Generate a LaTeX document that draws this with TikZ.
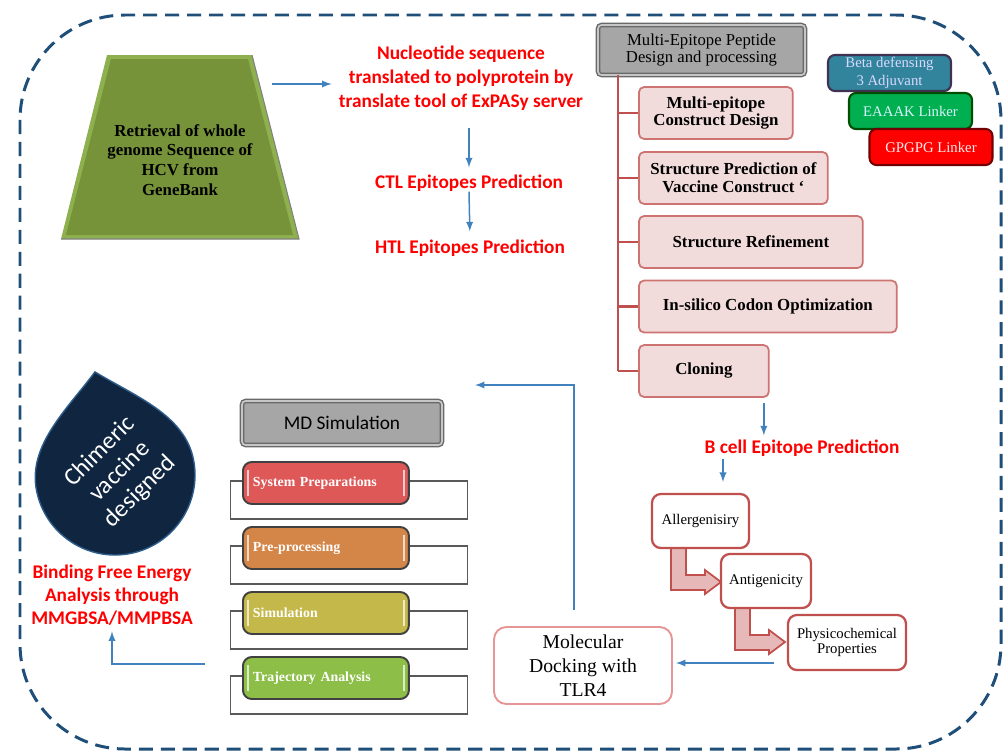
\documentclass[tikz,border=0pt]{standalone}
\usepackage{fontspec}
\setmainfont{Liberation Serif}
\newfontfamily\calibri{Carlito}
\usepackage{tikz}
\definecolor{framebl}{RGB}{31,78,121}
\definecolor{arrowbl}{RGB}{65,130,190}
\definecolor{leafgreen}{RGB}{118,147,58}
\definecolor{leafedge}{RGB}{142,176,78}
\definecolor{boxpink}{RGB}{242,220,219}
\definecolor{boxred}{RGB}{192,80,77}
\definecolor{greyfill}{RGB}{166,166,166}
\definecolor{greyedge}{RGB}{105,105,105}
\definecolor{tealbox}{RGB}{49,132,155}
\definecolor{tealedge}{RGB}{64,49,82}
\definecolor{greenbox}{RGB}{0,176,80}
\definecolor{mdred}{RGB}{222,88,88}
\definecolor{mdorange}{RGB}{212,133,72}
\definecolor{mdolive}{RGB}{196,184,74}
\definecolor{mdgreen}{RGB}{140,190,72}
\definecolor{dropblue}{RGB}{16,38,64}
\definecolor{bentfill}{RGB}{230,185,184}
\definecolor{dockedge}{RGB}{230,150,150}

\begin{document}
\begin{tikzpicture}[x=0.02cm, y=-0.02cm, >=latex,
    arr/.style={->, arrowbl, line width=0.85pt},
    redtxt/.style={text=red, font=\calibri\bfseries\fontsize{11}{13.6}\selectfont, align=center, inner sep=0pt},
    greybox/.style={fill=greyfill, draw=greyedge, double=gray!45, double distance=1pt, line width=0.8pt, rounded corners=2pt, align=center, inner sep=0pt},
    pinkbox/.style={fill=boxpink, draw=boxred!80, line width=1pt, rounded corners=3pt, minimum height=1.04cm, anchor=west, align=center, inner sep=0pt, font=\bfseries\fontsize{9.6}{10.2}\selectfont},
    tagbox/.style={rounded corners=4pt, line width=1.2pt, minimum width=2.46cm, minimum height=0.72cm, align=center, inner sep=0pt, font=\fontsize{8.4}{10}\selectfont},
    mdframe/.style={draw=black!65, line width=0.8pt, fill=white, minimum width=4.74cm, minimum height=0.76cm, anchor=west, inner sep=0pt},
    stripes/.style={path picture={\draw[white, opacity=0.7, line width=1.2pt] ([xshift=0.1cm,yshift=0.16cm]path picture bounding box.south west) -- ([xshift=0.1cm,yshift=-0.16cm]path picture bounding box.north west) ([xshift=-0.1cm,yshift=0.16cm]path picture bounding box.south east) -- ([xshift=-0.1cm,yshift=-0.16cm]path picture bounding box.north east);}},
    mdstep/.style={stripes, rounded corners=5pt, draw=black!75, line width=1.1pt, minimum width=3.32cm, minimum height=0.84cm, text width=2.92cm, align=left, inner xsep=0.2cm, inner ysep=0pt, anchor=west, text=white, font=\bfseries\fontsize{7.9}{9}\selectfont},
    testbox/.style={draw=boxred, line width=1.3pt, rounded corners=5pt, fill=white, align=center, inner sep=0pt, font=\fontsize{8.4}{9}\selectfont},
    bent/.style={fill=bentfill, draw=boxred, line width=1pt},
    trunk/.style={boxred, line width=1.6pt}]
    \useasboundingbox (0,0) rectangle (1007,751);
    \draw[framebl, line width=1.7pt, dash pattern=on 8pt off 4.5pt, rounded corners=2.1cm] (20,15) rectangle (1001,749);

    \fill[leafedge] (107,55) -- (252,55) -- (299,239) -- (61,239) -- cycle;
    \fill[leafgreen] (111,59) -- (248,59) -- (293,235) -- (66,235) -- cycle;
    \draw[gray, line width=0.6pt] (252,55) -- (299,239) -- (61,239);
    \node[font=\bfseries\fontsize{9.6}{11.3}\selectfont, align=center] (genome) at (180,160) {Retrieval of whole\\genome Sequence of\\HCV from\\GeneBank};

    \node[redtxt] (nucleo) at (461,78) {Nucleotide sequence\\translated to polyprotein by\\translate tool of ExPASy server};
    \node[redtxt] (ctl) at (469,183) {CTL Epitopes Prediction};
    \node[redtxt] (htl) at (470,248) {HTL Epitopes Prediction};
    \coordinate (a0) at (272,84);
    \draw[arr, shorten >=0.14cm] (a0) -- (nucleo.west |- a0);
    \draw[arr, shorten <=0.34cm, shorten >=0.14cm] (nucleo.south -| ctl.north) -- (ctl.north);
    \draw[arr, shorten >=0.16cm] (ctl.south) -- (htl.north);

    \node[greybox, minimum width=4.14cm, minimum height=1cm, font=\fontsize{9.5}{10.2}\selectfont] (mep) at (701.5,50) {Multi-Epitope Peptide\\Design and processing};
    \foreach \t/\w/\y [count=\i] in {{Multi-epitope\\Construct Design}/3.08/113, {Structure Prediction of\\Vaccine Construct ‘}/3.78/178, {Structure Refinement}/4.48/242, {In-silico Codon Optimization}/5.16/306.5, {Cloning}/2.6/371}
        \node[pinkbox, minimum width=\w cm] (s\i) at (638,\y) {\t};
    \coordinate (t0) at (618,75);
    \draw[trunk] (t0) -- (t0 |- s5.west);
    \foreach \i in {1,...,5}
        \draw[trunk] (t0 |- s\i.west) -- (s\i.west);

    \node[tagbox, fill=tealbox, draw=tealedge, text=white!85!blue] (beta) at (889.5,73) {Beta defensing\\3 Adjuvant};
    \node[tagbox, fill=greenbox, draw=black!70!green, text=cyan!15] (eaaak) at (910.5,111) {EAAAK Linker};
    \node[tagbox, fill=red, draw=red!45!black, text=red!8] (gpgpg) at (931,147) {GPGPG Linker};

    \node[redtxt] (bcell) at (802,448) {B cell Epitope Prediction};
    \draw[arr, shorten <=0.1cm, shorten >=0.08cm] ([xshift=1.2cm]s5.south) -- ([xshift=1.2cm]s5.south |- bcell.north);
    \foreach \x/\y in {671/548, 735/608}
        \filldraw[bent] (\x,\y) -- ++(0,42) -- ++(34,0) -- ++(0,4) -- ++(16,-12) -- ++(-16,-12) -- ++(0,5) -- ++(-19,0) -- ++(0,-27) -- cycle;
    \node[testbox, minimum width=1.94cm, minimum height=1.08cm] (allerg) at (700.5,521) {Allergenisiry};
    \node[testbox, minimum width=1.8cm, minimum height=1.08cm] (antig) at (766,581) {Antigenicity};
    \node[testbox, minimum width=2.36cm, minimum height=1.1cm] (phys) at (847,642.5) {Physicochemical\\Properties};
    \draw[arr, shorten <=0.04cm, shorten >=0.22cm] ([xshift=0.45cm]allerg.north |- bcell.south) -- ([xshift=0.45cm]allerg.north);

    \node[draw=dockedge, line width=1.1pt, rounded corners=7pt, minimum width=3.56cm, minimum height=1.54cm, align=center, inner sep=0pt, font=\fontsize{11.2}{13.6}\selectfont] (dock) at (583,665.5) {Molecular\\Docking with\\TLR4};
    \coordinate (p0) at (774,663);
    \draw[arr, shorten >=0.06cm] (p0) -- (p0 -| dock.east);
    \coordinate (turn) at (574,385);
    \coordinate (mdin) at (475,385);
    \draw[arr, shorten <=0.32cm] (dock.north -| turn) -- (turn) -- (mdin);

    \node[greybox, minimum width=4cm, minimum height=0.88cm, font=\calibri\fontsize{11}{13}\selectfont] (md) at (342,423) {MD Simulation};
    \foreach \t/\c/\y [count=\i] in {System Preparations/mdred/483, Pre-processing/mdorange/548, Simulation/mdolive/613, Trajectory Analysis/mdgreen/678} {
        \node[mdframe] (f\i) at (230,\y+17) {};
        \node[mdstep, fill=\c] (m\i) at (242,\y) {\t};
    }

    \begin{scope}[shift={(115,475)}, rotate=11]
        \filldraw[fill=dropblue, draw=arrowbl!60!dropblue, line width=0.8pt] (-80,0) .. controls (-80,-46) and (-34,-74) .. (0,-105) .. controls (34,-74) and (80,-46) .. (80,0) arc[start angle=0, end angle=180, radius=80] -- cycle;
    \end{scope}
    \node[text=white, rotate=45, align=center, inner sep=0pt, font=\calibri\fontsize{14}{16}\selectfont] (chim) at (120,472) {Chimeric\\vaccine\\designed};

    \node[redtxt, font=\calibri\bfseries\fontsize{11}{13}\selectfont] (bind) at (112,595) {Binding Free Energy\\Analysis through\\MMGBSA/MMPBSA};
    \coordinate (mdout) at (205,664);
    \draw[arr, shorten >=0.12cm] (mdout) -- (mdout -| bind.south) -- (bind.south);
\end{tikzpicture}
\end{document}
